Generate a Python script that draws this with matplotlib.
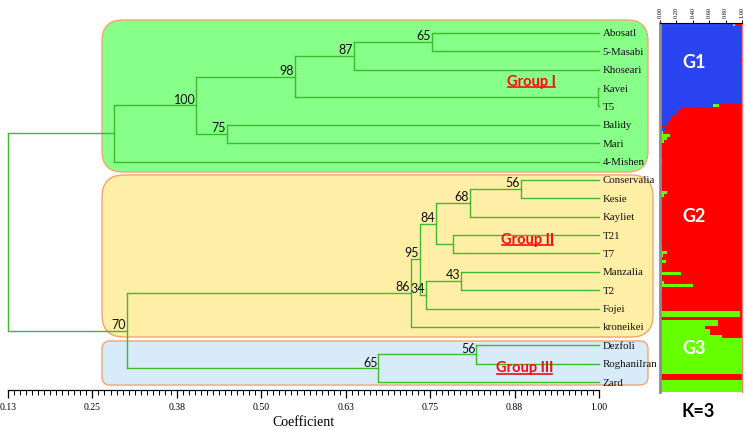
import numpy as np
import matplotlib.pyplot as plt
from matplotlib.patches import FancyBboxPatch
from matplotlib.lines import Line2D

# leaves of the dendrogram, top to bottom
leaves = ['Abosatl', '5-Masabi', 'Khoseari', 'Kavei', 'T5', 'Balidy', 'Mari', '4-Mishen',
          'Conservalia', 'Kesie', 'Kayliet', 'T21', 'T7', 'Manzalia', 'T2', 'Fojei',
          'kroneikei', 'Dezfoli', 'RoghaniIran', 'Zard']

# merges: node ids start after the leaves (20, 21, ...)
merge_left = [0, 20, 3, 21, 5, 23, 25, 8, 27, 11, 28, 13, 31, 30, 33, 17, 35, 34, 26]
merge_right = [1, 2, 4, 22, 6, 24, 7, 9, 10, 12, 29, 14, 15, 32, 16, 18, 19, 36, 37]
merge_coef = [0.754, 0.639, 0.999, 0.552, 0.452, 0.407, 0.286, 0.885, 0.810, 0.785,
              0.760, 0.797, 0.745, 0.736, 0.723, 0.819, 0.675, 0.305, 0.130]
bootstrap = [65, 87, None, 98, 75, 100, None, 56, 68, None, 84, 43, 34, 95, 86, 56, 65, 70, None]

group_names = ['Group I', 'Group II', 'Group III']

# STRUCTURE (K=3) membership, as runs of individuals
run_count = [1, 11, 1, 14, 1, 1, 1, 1, 1, 1, 1, 1, 1, 1, 1, 1, 1, 3, 2, 2, 5, 2, 1, 1, 1, 1,
             7, 1, 1, 7, 1, 1, 1, 1, 1, 1, 1, 2, 1, 2, 1, 1, 1, 6, 1, 2, 1, 2, 1, 2, 1, 12, 2, 4]
run_blue = [0.89, 1, 0.98, 1, 0.65, 0.25, 0.22, 0.19, 0.15, 0.12, 0.08, 0.02, 0.06, 0.02, 0, 0, 0,
            0, 0.02, 0, 0, 0.02, 0, 0, 0, 0, 0, 0.02, 0.01, 0, 0, 0, 0, 0, 0, 0.03, 0.01, 0, 0,
            0, 0.02, 0, 0, 0, 0, 0, 0, 0, 0, 0, 0, 0, 0, 0]
run_green = [0.02, 0, 0, 0, 0.07, 0, 0, 0, 0, 0, 0, 0, 0, 0.02, 0.12, 0.08, 0.05,
             0, 0, 0.02, 0, 0, 0, 0.03, 0.08, 0.05, 0, 0, 0, 0, 0.02, 0.03, 0.09, 0.04, 0.02,
             0.04, 0.02, 0.02, 0.25, 0.02, 0.03, 0.40, 0.03, 0.01, 0.02, 0.98, 0, 0.71, 0.55,
             0.61, 0.76, 1, 0, 1]
k_labels = ['G1', 'G2', 'G3']

LINE = '#3DBB2E'
BOX_FILL = ['#88FF88', '#FFEEA6', '#D7EBF8']
BOX_EDGE = '#F5A56E'
SERIF = 'Liberation Serif'
SANS = 'Lato'

fig = plt.figure(figsize=(7.47, 4.31), dpi=100)
ax = fig.add_axes([8 / 747, 1 - 391 / 431, 591 / 747, 371 / 431])
ax.set_xlim(0.13, 1.0)
ax.set_ylim(19.434, -0.762)

# aspect between y units and x units on screen, for round corners
p0 = ax.transData.transform((0.5, 0))
p1 = ax.transData.transform((0.6, 1))
asp = (1 / abs(p1[1] - p0[1])) / (0.1 / abs(p1[0] - p0[0]))
xpx = 0.1 / abs(p1[0] - p0[0])

# group boxes
boxes = [(0.2684, -0.708, 1.0721, 7.567, 21), (0.2684, 7.73, 1.0795, 16.55, 22),
         (0.2684, 16.766, 1.0721, 19.162, 8)]
for (x0, y0, x1, y1, r), fc in zip(boxes, BOX_FILL):
    ax.add_patch(FancyBboxPatch((x0, y0), x1 - x0, y1 - y0,
                                boxstyle='round,pad=0,rounding_size=%f' % (r * xpx),
                                mutation_aspect=asp, fc=fc, ec=BOX_EDGE, lw=1.0,
                                clip_on=False, zorder=0))

# tree
n = len(leaves)
node_y = {i: float(i) for i in range(n)}
node_x = {i: 1.0 for i in range(n)}
for k, (a, b, c, bs) in enumerate(zip(merge_left, merge_right, merge_coef, bootstrap)):
    idx = n + k
    ya, yb = node_y[a], node_y[b]
    node_y[idx] = (ya + yb) / 2
    node_x[idx] = c
    ax.plot([c, c], [ya, yb], color=LINE, lw=1.0, solid_capstyle='butt', clip_on=False)
    ax.plot([c, node_x[a]], [ya, ya], color=LINE, lw=1.0, clip_on=False)
    ax.plot([c, node_x[b]], [yb, yb], color=LINE, lw=1.0, clip_on=False)
    if bs is not None:
        ax.annotate(str(bs), (c, node_y[idx]), xytext=(-0.5, 0.5), textcoords='offset points',
                    ha='right', va='bottom', fontsize=9, family=SANS, color='#111111')

for i, name in enumerate(leaves):
    ax.annotate(name, (1.0, i), xytext=(2.5, 0), textcoords='offset points',
                ha='left', va='center', fontsize=7.8, family=SERIF, color='#111111',
                annotation_clip=False)

group_pos = [(0.90, 2.6), (0.895, 11.2), (0.89, 18.2)]
gtexts = []
for name, (gx, gy) in zip(group_names, group_pos):
    gtexts.append(ax.text(gx, gy, name, ha='center', va='center', fontsize=10.5,
                          fontweight='bold', family=SANS, color='#FF0A0A'))

for s in ['left', 'top', 'right']:
    ax.spines[s].set_visible(False)
ax.spines['bottom'].set_linewidth(0.9)
ax.set_yticks([])
major = np.linspace(0.13, 1.0, 8)
ax.set_xticks(major)
ax.set_xticklabels(['%.2f' % v for v in major], family=SERIF, fontsize=7)
ax.set_xticks(np.linspace(0.13, 1.0, 99), minor=True)
ax.tick_params(axis='x', which='major', length=6, width=0.9, pad=3)
ax.tick_params(axis='x', which='minor', length=3.5, width=0.7)
ax.set_xlabel('Coefficient', family=SERIF, fontsize=10, labelpad=2.5)

# STRUCTURE plot
blue = np.repeat(run_blue, run_count)
green = np.repeat(run_green, run_count)
red = np.clip(1 - blue - green, 0, 1)
ind = np.arange(len(blue))
ax2 = fig.add_axes([660 / 747, 1 - 393 / 431, 82 / 747, 369 / 431])
ax2.barh(ind, blue, height=1.0, align='edge', color='#2A44F2', lw=0)
ax2.barh(ind, green, left=blue, height=1.0, align='edge', color='#66FF00', lw=0)
ax2.barh(ind, red, left=blue + green, height=1.0, align='edge', color='#FF0000', lw=0)
ax2.set_xlim(0, 1)
ax2.set_ylim(len(blue), 0)
ax2.xaxis.tick_top()
ax2.set_xticks(np.linspace(0, 1, 6))
ax2.set_xticklabels(['%.2f' % v for v in np.linspace(0, 1, 6)], rotation=90,
                    family=SERIF, fontsize=4.5)
ax2.tick_params(axis='x', length=2.5, width=0.7, pad=1.5)
ax2.set_yticks([])
ax2.spines['bottom'].set_visible(False)
ax2.spines['left'].set_color('#8C8C8C')
ax2.spines['left'].set_linewidth(2)
ax2.spines['right'].set_color('#F08070')
ax2.spines['right'].set_linewidth(1)
ax2.spines['top'].set_linewidth(0.8)

for lab, yy in zip(k_labels, [13, 64, 108]):
    ax2.text(0.42, yy, lab, ha='center', va='center', fontsize=13, fontweight='bold',
             family=SANS, color='white')
fig.text(698 / 747, 1 - 412 / 431, 'K=3', ha='center', va='center', fontsize=13,
         fontweight='bold', family=SANS, color='black')

# underline group labels
fig.canvas.draw()
for t in gtexts:
    bb = t.get_window_extent()
    fig.add_artist(Line2D([bb.x0 + 1, bb.x1 - 1], [bb.y0 + 0.5, bb.y0 + 0.5],
                          transform=None, color='#FF0A0A', lw=1.2))

fig.savefig('out.png', dpi=100)
